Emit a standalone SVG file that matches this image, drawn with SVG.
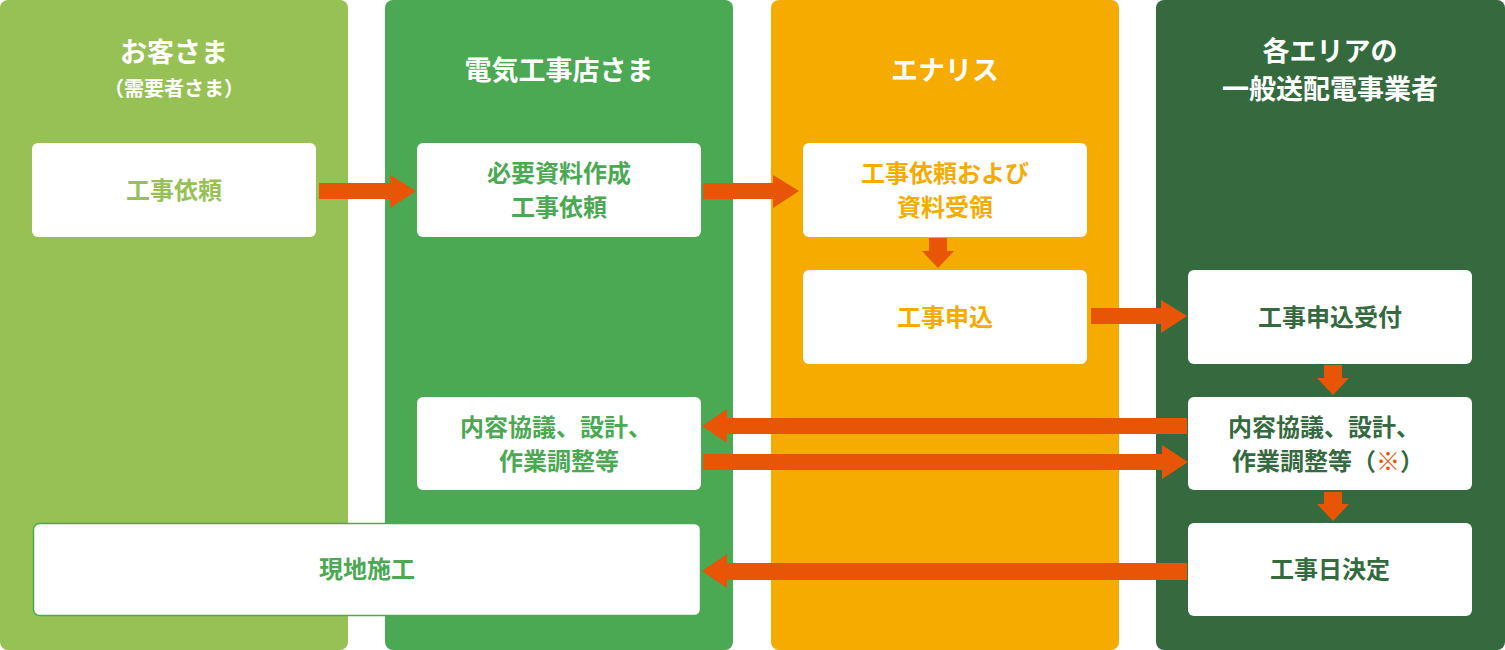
<svg xmlns="http://www.w3.org/2000/svg" width="1505" height="650" viewBox="0 0 1505 650">
<style>
text{font-family:"Noto Sans CJK JP","Noto Sans",sans-serif;font-weight:bold;text-anchor:middle}
.h{fill:#fff;font-size:27px}
.hs{fill:#fff;font-size:20px}
.b{fill:#fff}
.t{font-size:24px}
.c1{fill:#97c155}.c2{fill:#4ba853}.c3{fill:#f5ab00}.c4{fill:#356a3f}
.arr{fill:#e95506}
</style>
<g id="lanes">
<rect x="0" y="0" width="348" height="650" rx="8" class="c1"/>
<rect x="385" y="0" width="348" height="650" rx="8" class="c2"/>
<rect x="771" y="0" width="348" height="650" rx="8" class="c3"/>
<rect x="1156" y="0" width="349" height="650" rx="8" class="c4"/>
<text class="h" x="174" y="62">お客さま</text>
<text class="hs" x="174" y="96">（需要者さま）</text>
<text class="h" x="559" y="80">電気工事店さま</text>
<text class="h" x="945" y="80">エナリス</text>
<text class="h" x="1330" y="61">各エリアの</text>
<text class="h" x="1330" y="99">一般送配電事業者</text>
</g>
<g id="n1"><rect x="32" y="143" width="284" height="94" rx="6" class="b"/><text class="t c1" x="174" y="199">工事依頼</text></g>
<g id="n2"><rect x="417" y="143" width="284" height="94" rx="6" class="b"/><text class="t c2" x="559" y="182">必要資料作成</text><text class="t c2" x="559" y="216">工事依頼</text></g>
<g id="n3"><rect x="803" y="143" width="284" height="94" rx="6" class="b"/><text class="t c3" x="945" y="182">工事依頼および</text><text class="t c3" x="945" y="216">資料受領</text></g>
<g id="n4"><rect x="803" y="270" width="284" height="94" rx="6" class="b"/><text class="t c3" x="945" y="326">工事申込</text></g>
<g id="n5"><rect x="1188" y="270" width="284" height="94" rx="6" class="b"/><text class="t c4" x="1330" y="326">工事申込受付</text></g>
<g id="n6"><rect x="1188" y="397" width="284" height="93" rx="6" class="b"/><text class="t c4" x="1324" y="436">内容協議、設計、</text><text class="t c4" x="1328" y="470">作業調整等（<tspan fill="#e95506">※</tspan>）</text></g>
<g id="n7"><rect x="1188" y="523" width="284" height="93" rx="6" class="b"/><text class="t c4" x="1330" y="578">工事日決定</text></g>
<g id="n8"><rect x="417" y="397" width="284" height="93" rx="6" class="b"/><text class="t c2" x="556" y="436">内容協議、設計、</text><text class="t c2" x="559" y="470">作業調整等</text></g>
<g id="n9"><rect x="33.5" y="523.5" width="667" height="92" rx="6" class="b" stroke="#4ba853" stroke-width="1.5"/><text class="t c2" x="367" y="578">現地施工</text></g>
<g id="connectors" class="arr">
<path d="M319 183H390V175L416 191L390 208V199H319Z"/>
<path d="M703 183H773V175L799 191L773 208V199H703Z"/>
<path d="M1091 308H1161V300L1187 316L1161 333V324H1091Z"/>
<path d="M929 238H947V251H954L938 268L922 251H929Z"/>
<path d="M1324 365H1342V378H1349L1333 395L1317 378H1324Z"/>
<path d="M1324 492H1342V504H1349L1333 521L1317 504H1324Z"/>
<path d="M1187 418H727V409L702 426L727 443V434H1187Z"/>
<path d="M703 454H1162V445L1188 462L1162 479V470H703Z"/>
<path d="M1187 563H727V554L702 571L727 588V580H1187Z"/>
</g>
</svg>
